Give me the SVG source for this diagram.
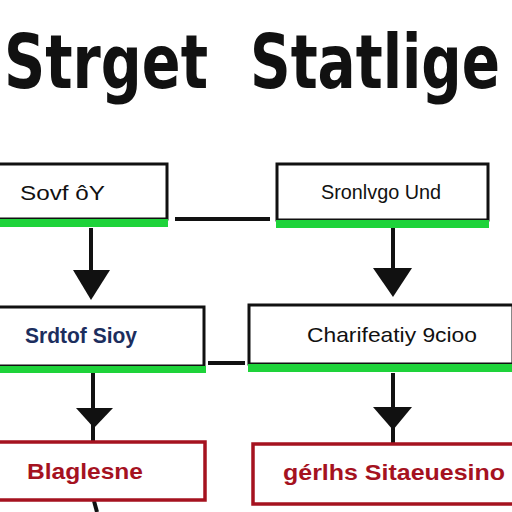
<svg xmlns="http://www.w3.org/2000/svg" width="512" height="512" viewBox="0 0 512 512">
<style>
.title{font-family:"DejaVu Sans Condensed","DejaVu Sans",sans-serif;font-weight:bold;font-size:60px;fill:#111}
.box{fill:#fff;stroke:#111;stroke-width:3}
.rbox{fill:#fff;stroke:#a5121f;stroke-width:3.5}
.green{fill:#1ed33a}
.lbl{font-family:"Liberation Sans",sans-serif;font-size:21px;fill:#111}
.blue{font-family:"Liberation Sans",sans-serif;font-size:22px;font-weight:bold;fill:#1c2e5e}
.red{font-family:"Liberation Sans",sans-serif;font-size:22px;font-weight:bold;fill:#a5121f}
.ln{stroke:#111;stroke-width:4;fill:none}
.head{fill:#111}
</style>
<rect width="512" height="512" fill="#fff"/>
<g id="title">
<text class="title" transform="translate(4,88) scale(1,1.25)" x="0" y="0" textLength="204" lengthAdjust="spacingAndGlyphs">Strget</text>
<text class="title" transform="translate(250,88) scale(1,1.25)" x="0" y="0" textLength="250" lengthAdjust="spacingAndGlyphs">Statlige</text>
</g>
<g id="connectors">
<line class="ln" x1="175" y1="219" x2="270" y2="219"/>
<line class="ln" x1="208" y1="363" x2="245" y2="363"/>
<line class="ln" x1="91" y1="228" x2="91" y2="285"/>
<polygon class="head" points="73,270 110,270 91,300"/>
<line class="ln" x1="393" y1="228" x2="393" y2="285"/>
<polygon class="head" points="373,268 412,268 393,297"/>
<line class="ln" x1="93" y1="373" x2="93" y2="442"/>
<polygon class="head" points="76,408 113,408 94,428"/>
<line class="ln" x1="393" y1="373" x2="393" y2="443"/>
<polygon class="head" points="373,407 412,407 393,430"/>
<line class="ln" x1="94" y1="501" x2="97" y2="512"/>
</g>
<g id="n1">
<rect class="box" x="-4" y="164" width="171" height="55"/>
<rect class="green" x="0" y="219" width="168" height="8"/>
<text class="lbl" x="20" y="200" textLength="85" lengthAdjust="spacingAndGlyphs">Sovf ôY</text>
</g>
<g id="n2">
<rect class="box" x="277" y="164" width="211" height="56"/>
<rect class="green" x="276" y="220" width="213" height="8"/>
<text class="lbl" x="321" y="199" textLength="120" lengthAdjust="spacingAndGlyphs">Sronlvgo Und</text>
</g>
<g id="n3">
<rect class="box" x="-4" y="307" width="208" height="59"/>
<rect class="green" x="0" y="366" width="206" height="7"/>
<text class="blue" x="25" y="343" textLength="112" lengthAdjust="spacingAndGlyphs">Srdtof Sioy</text>
</g>
<g id="n4">
<rect class="box" x="249" y="305" width="264" height="59"/>
<rect class="green" x="248" y="364" width="264" height="8"/>
<text class="lbl" x="307" y="342" textLength="170" lengthAdjust="spacingAndGlyphs">Charifeatiy  9cioo</text>
</g>
<g id="n5">
<rect class="rbox" x="-4" y="442" width="209" height="58"/>
<text class="red" x="27" y="479" textLength="116" lengthAdjust="spacingAndGlyphs">Blaglesne</text>
</g>
<g id="n6">
<rect class="rbox" x="253" y="444" width="262" height="60"/>
<text class="red" x="283" y="480" textLength="222" lengthAdjust="spacingAndGlyphs">gérlhs  Sitaeuesino</text>
</g>
</svg>
